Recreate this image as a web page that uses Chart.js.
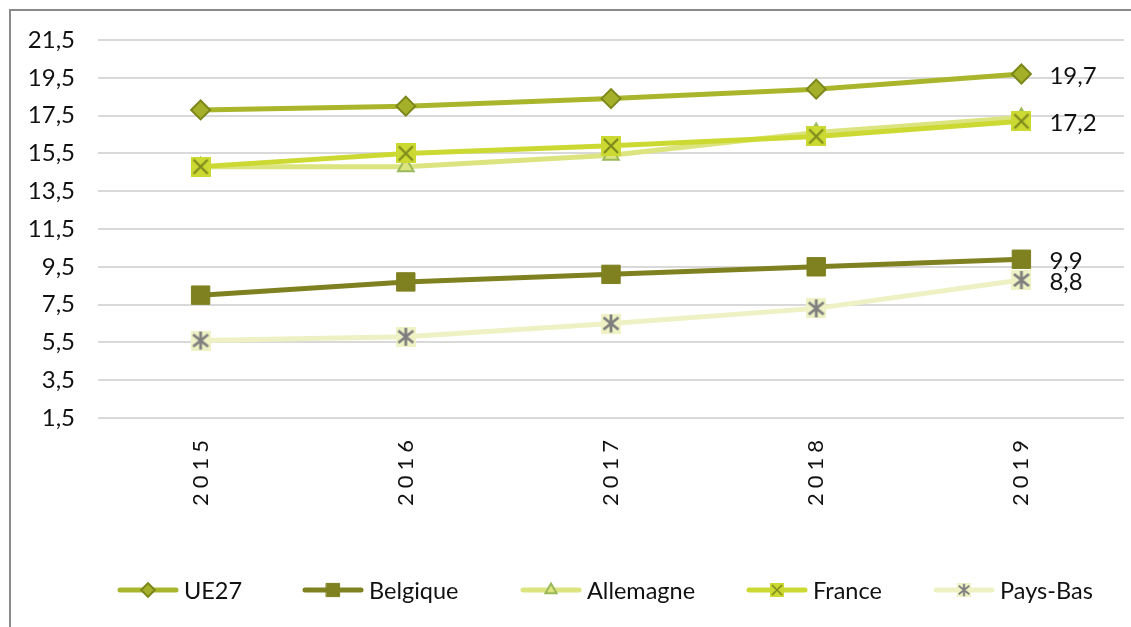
<!DOCTYPE html>
<html>
<head>
<meta charset="utf-8">
<script src="https://cdn.jsdelivr.net/npm/chart.js@4/dist/chart.umd.min.js"></script>
<style>
  html, body { margin: 0; padding: 0; background: #fff; overflow: hidden; }
  #frame {
    position: absolute; left: 9px; top: 9px; width: 2000px; height: 2000px;
    border-left: 2px solid #8a8a8a; border-top: 2px solid #8a8a8a;
  }
  #wrap { position: absolute; left: 0; top: 0; width: 1131px; height: 627px; }
</style>
</head>
<body>
<div id="frame"></div>
<div id="wrap"><canvas id="chart" width="1131" height="627"></canvas></div>
<script>
// années et séries
const years = ['2015', '2016', '2017', '2018', '2019'];
const ue27 = [17.8, 18.0, 18.4, 18.9, 19.7];
const belgique = [8.0, 8.7, 9.1, 9.5, 9.9];
const allemagne = [14.8, 14.8, 15.4, 16.6, 17.4];
const france = [14.8, 15.5, 15.9, 16.4, 17.2];
const paysBas = [5.6, 5.8, 6.5, 7.3, 8.8];
const yTicks = { min: 1.5, max: 21.5, step: 2 };

const FONT = 'Lato, "Open Sans", sans-serif';
const fmt = v => v.toFixed(1).replace('.', ',');

// marqueurs composés (carré + croix / astérisque)
function makeMarker(fill, stroke, kind) {
  const c = document.createElement('canvas');
  c.width = 20; c.height = 20;
  const g = c.getContext('2d');
  g.fillStyle = fill;
  g.fillRect(0, 0, 20, 20);
  g.strokeStyle = stroke;
  g.lineWidth = kind === 'x' ? 2.2 : 2.8;
  g.beginPath();
  if (kind === 'x') {
    g.moveTo(3, 3); g.lineTo(17, 17);
    g.moveTo(17, 3); g.lineTo(3, 17);
  } else {
    g.moveTo(10, 1); g.lineTo(10, 19);
    g.moveTo(2.5, 4); g.lineTo(17.5, 16);
    g.moveTo(17.5, 4); g.lineTo(2.5, 16);
  }
  g.stroke();
  return c;
}
const franceMarker = makeMarker('#ccd932', '#7d8a1c', 'x');
const paysBasMarker = makeMarker('#eef2c4', '#7f7f7f', 'star');

const datasets = [
  { label: 'UE27', data: ue27, borderColor: '#a9b62b', pointStyle: 'rectRot', pointRadius: 9.5,
    pointBackgroundColor: '#a5b02a', pointBorderColor: '#7c871a', pointBorderWidth: 2, order: 5, showValue: true },
  { label: 'Belgique', data: belgique, borderColor: '#7f8020', pointStyle: 'rect', pointRadius: 13,
    pointBackgroundColor: '#7f8020', pointBorderColor: '#7f8020', pointBorderWidth: 1, order: 4, showValue: true },
  { label: 'Allemagne', data: allemagne, borderColor: '#dce47f', pointStyle: 'triangle', pointRadius: 9,
    pointBackgroundColor: '#dce47f', pointBorderColor: '#9bb95a', pointBorderWidth: 2, order: 3, showValue: false },
  { label: 'France', data: france, borderColor: '#ccd932', pointStyle: franceMarker, pointRadius: 10,
    pointBackgroundColor: '#ccd932', pointBorderColor: '#7d8a1c', pointBorderWidth: 0, order: 2, showValue: true },
  { label: 'Pays-Bas', data: paysBas, borderColor: '#edf1c3', pointStyle: paysBasMarker, pointRadius: 10,
    pointBackgroundColor: '#eef2c4', pointBorderColor: '#7f7f7f', pointBorderWidth: 0, order: 1, showValue: true }
].map(d => Object.assign({ borderWidth: 5, pointHoverRadius: d.pointRadius, tension: 0, fill: false }, d));

// étiquettes de valeur sur le dernier point
const valueLabels = {
  id: 'valueLabels',
  afterDatasetsDraw(chart) {
    const ctx = chart.ctx;
    ctx.save();
    ctx.font = '24px ' + FONT;
    ctx.fillStyle = '#111';
    ctx.textAlign = 'left';
    ctx.textBaseline = 'middle';
    chart.data.datasets.forEach((ds, i) => {
      if (!ds.showValue) return;
      const meta = chart.getDatasetMeta(i);
      const last = meta.data.length - 1;
      const pt = meta.data[last];
      ctx.fillText(fmt(ds.data[last]), pt.x + 28, pt.y + 2);
    });
    ctx.restore();
  }
};

// années verticales, espacées
const yearLabels = {
  id: 'yearLabels',
  afterDraw(chart) {
    const ctx = chart.ctx;
    const xs = chart.scales.x;
    ctx.save();
    ctx.font = '22px ' + FONT;
    ctx.fillStyle = '#111';
    ctx.letterSpacing = '5px';
    ctx.textAlign = 'right';
    ctx.textBaseline = 'middle';
    years.forEach((y, i) => {
      ctx.save();
      ctx.translate(xs.getPixelForValue(i), chart.chartArea.bottom + 17);
      ctx.rotate(-Math.PI / 2);
      ctx.fillText(y, 0, 0);
      ctx.restore();
    });
    ctx.restore();
  }
};

// légende en bas : trait + marqueur + texte
const legendX = [118, 303, 521, 747, 934];
const lineLegend = {
  id: 'lineLegend',
  afterDraw(chart) {
    const ctx = chart.ctx;
    const H = Chart.helpers;
    const y = 590, sym = 60, gapText = 6;
    ctx.save();
    ctx.font = '23.5px ' + FONT;
    chart.data.datasets.forEach((ds, i) => {
      const x = legendX[i];
      ctx.strokeStyle = ds.borderColor;
      ctx.lineWidth = 5;
      ctx.lineCap = 'round';
      ctx.beginPath();
      ctx.moveTo(x + 2, y); ctx.lineTo(x + sym - 2, y);
      ctx.stroke();
      ctx.fillStyle = ds.pointBackgroundColor;
      ctx.strokeStyle = ds.pointBorderColor;
      ctx.lineWidth = ds.pointBorderWidth;
      if (typeof ds.pointStyle === 'string') {
        H.drawPoint(ctx, { pointStyle: ds.pointStyle, radius: ds.pointRadius * 0.72, rotation: 0,
          borderWidth: ds.pointBorderWidth }, x + sym / 2, y);
      } else {
        ctx.drawImage(ds.pointStyle, x + sym / 2 - 7, y - 7, 14, 14);
      }
      ctx.fillStyle = '#111';
      ctx.textAlign = 'left';
      ctx.textBaseline = 'middle';
      ctx.fillText(ds.label, x + sym + gapText, y + 1);
    });
    ctx.restore();
  }
};

new Chart(document.getElementById('chart'), {
  type: 'line',
  data: { labels: years, datasets },
  options: {
    responsive: false,
    animation: false,
    layout: { autoPadding: false, padding: { top: 40, right: 7, left: 0, bottom: 0 } },
    plugins: { legend: { display: false }, tooltip: { enabled: false } },
    scales: {
      x: {
        offset: true,
        grid: { display: false, drawTicks: false },
        border: { display: false },
        ticks: { display: false },
        afterFit(s) { s.height = 209; }
      },
      y: {
        min: yTicks.min,
        max: yTicks.max,
        grid: { color: '#d9d9d9', lineWidth: 2, drawTicks: false },
        border: { display: false },
        ticks: {
          stepSize: yTicks.step,
          padding: 23,
          color: '#111',
          font: { family: FONT, size: 24 },
          callback: v => fmt(v)
        },
        afterFit(s) { s.width = 98; }
      }
    }
  },
  plugins: [valueLabels, yearLabels, lineLegend]
});
</script>
</body>
</html>
